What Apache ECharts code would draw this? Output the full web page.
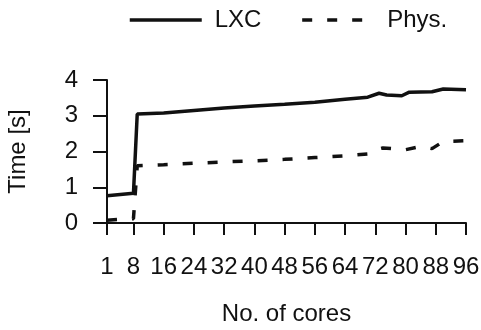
<!DOCTYPE html>
<html><head><meta charset="utf-8">
<script src="https://cdn.jsdelivr.net/npm/echarts@6/dist/echarts.min.js"></script>
<style>html,body{margin:0;padding:0;background:#fff}#c{width:481px;height:330px}</style>
</head><body><div id="c"></div>
<script>
var xTicks = [1, 8, 16, 24, 32, 40, 48, 56, 64, 72, 80, 88, 96];
var lxcCores = [1, 8, 9, 16, 24, 32, 40, 48, 56, 64, 70, 73, 75, 79, 81, 87, 90, 96];
var lxcTime  = [0.76, 0.83, 3.05, 3.08, 3.15, 3.22, 3.27, 3.32, 3.38, 3.46, 3.52, 3.63, 3.58, 3.56, 3.66, 3.67, 3.75, 3.73];
var physCores = [1, 8, 9, 16, 24, 32, 40, 48, 56, 64, 70, 72, 74, 80, 84, 87, 90, 96];
var physTime  = [0.08, 0.12, 1.6, 1.63, 1.67, 1.71, 1.74, 1.78, 1.83, 1.88, 1.93, 2.05, 2.1, 2.05, 2.14, 2.08, 2.28, 2.3];
var seriesNames = ['LXC', 'Phys.'];
var xName = 'No. of cores';
var yName = 'Time [s]';

function pairs(xs, ys) { return xs.map(function (x, i) { return [x, ys[i]]; }); }

var font = 'Liberation Sans, Arial, sans-serif';
var chart = echarts.init(document.getElementById('c'), null, {renderer: 'canvas'});
chart.setOption({
  backgroundColor: '#fff',
  animation: false,
  legend: {
    top: 3, left: 123,
    itemWidth: 72, itemHeight: 14, itemGap: 39,
    itemStyle: {color: 'rgba(0,0,0,0)', borderWidth: 0, opacity: 0},
    lineStyle: {width: 3.5},
    textStyle: {fontFamily: font, fontSize: 24, color: '#111', padding: [0, 0, 0, 8]},
    data: seriesNames
  },
  grid: {left: 107, right: 15, top: 80, bottom: 107, containLabel: false, outerBoundsMode: 'none'},
  xAxis: {
    type: 'value', min: 1, max: 96,
    name: xName, nameLocation: 'middle', nameGap: 79,
    nameTextStyle: {fontFamily: font, fontSize: 24, color: '#111'},
    axisLine: {lineStyle: {color: '#111', width: 2}},
    axisTick: {show: true, inside: false, length: 12, lineStyle: {color: '#111', width: 2}, customValues: xTicks},
    axisLabel: {customValues: xTicks, fontFamily: font, fontSize: 24, color: '#111', margin: 32, hideOverlap: false},
    splitLine: {show: false}
  },
  yAxis: {
    type: 'value', min: 0, max: 4, interval: 1,
    name: yName, nameLocation: 'middle', nameGap: 77,
    nameTextStyle: {fontFamily: font, fontSize: 24, color: '#111'},
    axisLine: {show: true, lineStyle: {color: '#111', width: 2}},
    axisTick: {show: true, length: 14, lineStyle: {color: '#111', width: 2}},
    axisLabel: {fontFamily: font, fontSize: 24, color: '#111', margin: 29},
    splitLine: {show: false}
  },
  series: [
    {name: seriesNames[0], type: 'line', data: pairs(lxcCores, lxcTime), showSymbol: false, symbol: 'none',
     lineStyle: {color: '#111', width: 3.5, type: 'solid'}, itemStyle: {color: '#111'}},
    {name: seriesNames[1], type: 'line', data: pairs(physCores, physTime), showSymbol: false, symbol: 'none',
     lineStyle: {color: '#111', width: 3.5, type: [10, 15]}, itemStyle: {color: '#111'}}
  ]
});
</script></body></html>
